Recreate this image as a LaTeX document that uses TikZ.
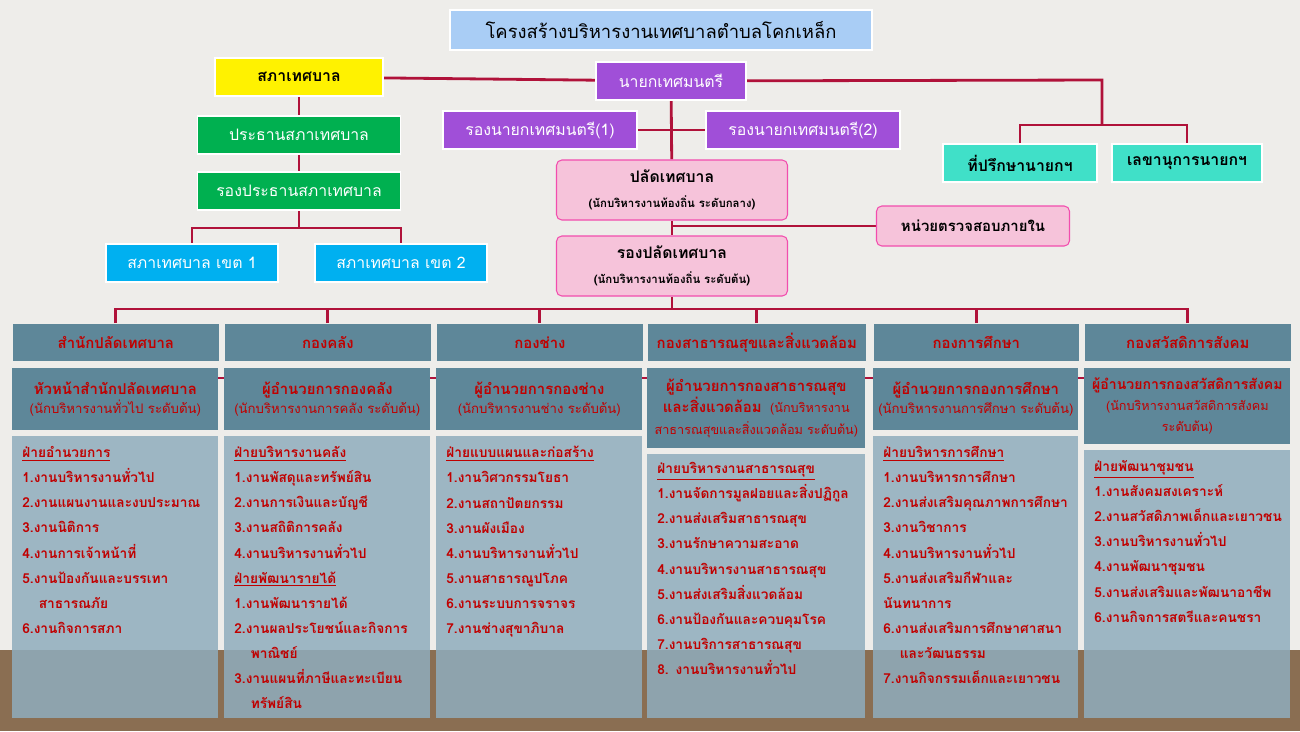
\documentclass[tikz,border=0pt]{standalone}
\usepackage{fontspec}
\setmainfont[Script=Thai]{Loma}
\usetikzlibrary{positioning}
\pgfdeclarelayer{back}
\pgfdeclarelayer{wires}
\pgfsetlayers{back,wires,main}
\definecolor{wall}{HTML}{EEEDEA}
\definecolor{wood}{HTML}{8A6E52}
\definecolor{linered}{HTML}{B0123A}
\definecolor{deepred}{HTML}{C00000}
\definecolor{headblue}{HTML}{5E8799}
\definecolor{panelblue}{HTML}{8FADBD}
\definecolor{titleblue}{HTML}{A9CDF5}
\definecolor{mayorviolet}{HTML}{A04FD8}
\definecolor{councilgreen}{HTML}{00B050}
\definecolor{zonecyan}{HTML}{00B0F0}
\definecolor{aidteal}{HTML}{40E0C8}
\definecolor{clerkpink}{HTML}{F6C3DA}
\tikzset{
  box/.style={draw=white, line width=1pt, minimum height=18pt, font=\fontsize{9}{11}\selectfont, inner sep=2pt},
  wire/.style={draw=linered, line width=1.6pt},
  headbox/.style={box, fill=headblue, text=deepred, font=\bfseries\fontsize{8.5}{11}\selectfont, draw=none},
  chiefbox/.style={fill=headblue, text=deepred, align=center, font=\fontsize{7.5}{11}\selectfont},
  chieftext/.style={text=deepred, align=center, font=\fontsize{7.5}{11}\selectfont, inner sep=0pt},
  listbox/.style={fill=panelblue, fill opacity=0.85, text opacity=1, text=deepred, align=left, anchor=north west,
     font=\bfseries\fontsize{7.8}{14.3}\selectfont, inner sep=0pt},
  pinkbox/.style={box, draw=magenta!70, line width=0.6pt, fill=clerkpink, rounded corners=3pt},
}
\begin{document}
\begin{tikzpicture}[x=0.02cm, y=-0.02cm]
\begin{pgfonlayer}{back}
\fill[wall] (0,0) rectangle (1300,731);
\fill[wood] (0,650) rectangle (1300,731);
\end{pgfonlayer}
%% top part
\node[box, fill=titleblue, minimum width=422*0.02cm, minimum height=40*0.02cm, font=\fontsize{10.5}{12}\selectfont] (title) at (661,30) {โครงสร้างบริหารงานเทศบาลตำบลโคกเหล็ก};
\node[box, fill=yellow, minimum width=168*0.02cm, minimum height=38*0.02cm, font=\bfseries\fontsize{9}{11}\selectfont] (council) at (299,77) {สภาเทศบาล};
\node[box, fill=mayorviolet, text=white, minimum width=150*0.02cm, minimum height=38*0.02cm] (mayor) at (671,81) {นายกเทศมนตรี};
\node[box, fill=mayorviolet, text=white, minimum width=194*0.02cm, minimum height=38*0.02cm] (dep1) at (540,130) {รองนายกเทศมนตรี(1)};
\node[box, fill=mayorviolet, text=white, minimum width=194*0.02cm, minimum height=38*0.02cm] (dep2) at (803,130) {รองนายกเทศมนตรี(2)};
\node[box, fill=councilgreen, text=white, minimum width=203*0.02cm, minimum height=38*0.02cm] (chair) at (299,135) {ประธานสภาเทศบาล};
\node[box, fill=councilgreen, text=white, minimum width=203*0.02cm, minimum height=38*0.02cm] (vchair) at (299,191) {รองประธานสภาเทศบาล};
\node[box, fill=zonecyan, text=white, minimum width=172*0.02cm, minimum height=38*0.02cm] (zone1) at (192,263) {สภาเทศบาล เขต 1};
\node[box, fill=zonecyan, text=white, minimum width=172*0.02cm, minimum height=38*0.02cm] (zone2) at (401,263) {สภาเทศบาล เขต 2};
\node[box, fill=aidteal, minimum width=154*0.02cm, minimum height=38*0.02cm, font=\bfseries\fontsize{9}{11}\selectfont] (advisor) at (1020,163) {ที่ปรึกษานายกฯ};
\node[box, fill=aidteal, minimum width=150*0.02cm, minimum height=38*0.02cm, font=\bfseries\fontsize{9}{11}\selectfont] (secretary) at (1187,163) {เลขานุการนายกฯ};
\node[pinkbox, minimum width=231*0.02cm, minimum height=60*0.02cm, align=center, font=\bfseries\fontsize{9}{16}\selectfont] (clerk) at (672,190) {ปลัดเทศบาล\\[-2pt]{\fontsize{6.5}{8}\selectfont(นักบริหารงานท้องถิ่น ระดับกลาง)}};
\node[pinkbox, minimum width=231*0.02cm, minimum height=60*0.02cm, align=center, font=\bfseries\fontsize{9}{16}\selectfont] (vclerk) at (672,266) {รองปลัดเทศบาล\\[-2pt]{\fontsize{6.5}{8}\selectfont(นักบริหารงานท้องถิ่น ระดับต้น)}};
\node[pinkbox, minimum width=193*0.02cm, minimum height=40*0.02cm, font=\bfseries\fontsize{8.5}{11}\selectfont] (audit) at (973,226) {หน่วยตรวจสอบภายใน};
\coordinate (upper) at (1102,80);
\coordinate (ubar) at (1102,125);
\coordinate (bus) at (672,309);
\coordinate (zbus) at (299,228);
%% columns
\foreach \n/\x/\w/\t/\hb in {
 c1/12/206/สำนักปลัดเทศบาล/430,
 c2/224/206/กองคลัง/430,
 c3/436/206/กองช่าง/430,
 c4/647/218/กองสาธารณสุขและสิ่งแวดล้อม/448,
 c5/873/205/กองการศึกษา/430,
 c6/1084/206/กองสวัสดิการสังคม/444}{
  \node[headbox, anchor=north west, minimum width=\w*0.02cm, minimum height=37*0.02cm, inner sep=0pt] (\n h) at (\x,323) {\t};
  \node[chiefbox, anchor=north west, minimum width=\w*0.02cm, minimum height=(\hb-368)*0.02cm, inner sep=0pt] (\n c) at (\x,368) {};
  \node[listbox, minimum width=\w*0.02cm, minimum height=(718-\hb-6)*0.02cm] (\n l) at (\x,\hb+6) {};
}
\node[chieftext, text width=200*0.02cm] at (c1c) {{\bfseries\fontsize{8.5}{14}\selectfont หัวหน้าสำนักปลัดเทศบาล}\\(นักบริหารงานทั่วไป ระดับต้น)};
\node[chieftext, text width=200*0.02cm] at (c2c) {{\bfseries\fontsize{8.5}{14}\selectfont ผู้อำนวยการกองคลัง}\\(นักบริหารงานการคลัง ระดับต้น)};
\node[chieftext, text width=200*0.02cm] at (c3c) {{\bfseries\fontsize{8.5}{14}\selectfont ผู้อำนวยการกองช่าง}\\(นักบริหารงานช่าง ระดับต้น)};
\node[chieftext, text width=212*0.02cm, font=\fontsize{7.2}{12}\selectfont] at (c4c) {{\bfseries\fontsize{8.5}{12}\selectfont ผู้อำนวยการกองสาธารณสุข\\และสิ่งแวดล้อม}\ \ (นักบริหารงาน\\สาธารณสุขและสิ่งแวดล้อม ระดับต้น)};
\node[chieftext, text width=200*0.02cm] at (c5c) {{\bfseries\fontsize{8.5}{14}\selectfont ผู้อำนวยการกองการศึกษา}\\(นักบริหารงานการศึกษา ระดับต้น)};
\node[chieftext, text width=200*0.02cm, font=\fontsize{7.2}{12}\selectfont] at (c6c) {{\bfseries\fontsize{8}{12}\selectfont ผู้อำนวยการกองสวัสดิการสังคม}\\(นักบริหารงานสวัสดิการสังคม\\ระดับต้น)};
%% job lists
\node[listbox, fill=none, text width=196*0.02cm] (c1t) at ([xshift=10*0.02cm, yshift=-10*0.02cm]c1l.north west) {\underline{ฝ่ายอำนวยการ}\\1.งานบริหารงานทั่วไป\\2.งานแผนงานและงบประมาณ\\3.งานนิติการ\\4.งานการเจ้าหน้าที่\\5.งานป้องกันและบรรเทา\\\hspace*{1.2em}สาธารณภัย\\6.งานกิจการสภา};
\node[listbox, fill=none, text width=196*0.02cm] (c2t) at ([xshift=10*0.02cm, yshift=-10*0.02cm]c2l.north west) {\underline{ฝ่ายบริหารงานคลัง}\\1.งานพัสดุและทรัพย์สิน\\2.งานการเงินและบัญชี\\3.งานสถิติการคลัง\\4.งานบริหารงานทั่วไป\\\underline{ฝ่ายพัฒนารายได้}\\1.งานพัฒนารายได้\\2.งานผลประโยชน์และกิจการ\\\hspace*{1.2em}พาณิชย์\\3.งานแผนที่ภาษีและทะเบียน\\\hspace*{1.2em}ทรัพย์สิน};
\node[listbox, fill=none, text width=196*0.02cm] (c3t) at ([xshift=10*0.02cm, yshift=-10*0.02cm]c3l.north west) {\underline{ฝ่ายแบบแผนและก่อสร้าง}\\1.งานวิศวกรรมโยธา\\2.งานสถาปัตยกรรม\\3.งานผังเมือง\\4.งานบริหารงานทั่วไป\\5.งานสาธารณูปโภค\\6.งานระบบการจราจร\\7.งานช่างสุขาภิบาล};
\node[listbox, fill=none, text width=208*0.02cm] (c4t) at ([xshift=10*0.02cm, yshift=-8*0.02cm]c4l.north west) {\underline{ฝ่ายบริหารงานสาธารณสุข}\\1.งานจัดการมูลฝอยและสิ่งปฏิกูล\\2.งานส่งเสริมสาธารณสุข\\3.งานรักษาความสะอาด\\4.งานบริหารงานสาธารณสุข\\5.งานส่งเสริมสิ่งแวดล้อม\\6.งานป้องกันและควบคุมโรค\\7.งานบริการสาธารณสุข\\8. งานบริหารงานทั่วไป};
\node[listbox, fill=none, text width=196*0.02cm] (c5t) at ([xshift=10*0.02cm, yshift=-10*0.02cm]c5l.north west) {\underline{ฝ่ายบริหารการศึกษา}\\1.งานบริหารการศึกษา\\2.งานส่งเสริมคุณภาพการศึกษา\\3.งานวิชาการ\\4.งานบริหารงานทั่วไป\\5.งานส่งเสริมกีฬาและ\\นันทนาการ\\6.งานส่งเสริมการศึกษาศาสนา\\\hspace*{1.2em}และวัฒนธรรม\\7.งานกิจกรรมเด็กและเยาวชน};
\node[listbox, fill=none, text width=196*0.02cm] (c6t) at ([xshift=10*0.02cm, yshift=-10*0.02cm]c6l.north west) {\underline{ฝ่ายพัฒนาชุมชน}\\1.งานสังคมสงเคราะห์\\2.งานสวัสดิภาพเด็กและเยาวชน\\3.งานบริหารงานทั่วไป\\4.งานพัฒนาชุมชน\\5.งานส่งเสริมและพัฒนาอาชีพ\\6.งานกิจการสตรีและคนชรา};
%% connectors
\begin{pgfonlayer}{wires}
\draw[wire] (council) -- (mayor);
\draw[wire] (mayor) -- (upper) -- (ubar);
\draw[wire] (advisor.north) |- (ubar) -| (secretary.north);
\draw[wire] (dep1) -- (dep2);
\draw[wire] (mayor) -- (clerk);
\draw[wire] (clerk) -- (vclerk);
\draw[wire] (audit.west) -- (audit.west -| clerk);
\draw[wire] (council) -- (chair);
\draw[wire] (chair) -- (vchair);
\draw[wire] (vchair) -- (zbus);
\draw[wire] (zone1.north) |- (zbus) -| (zone2.north);
\draw[wire] (vclerk) -- (bus);
\foreach \n in {c1,c2,c3,c4,c5,c6} \draw[wire] (\n h.north) |- (bus);
\draw[wire] ([yshift=-10*0.02cm]c1c.north) -- ([yshift=-10*0.02cm]c6c.north);
\end{pgfonlayer}
\end{tikzpicture}
\end{document}
